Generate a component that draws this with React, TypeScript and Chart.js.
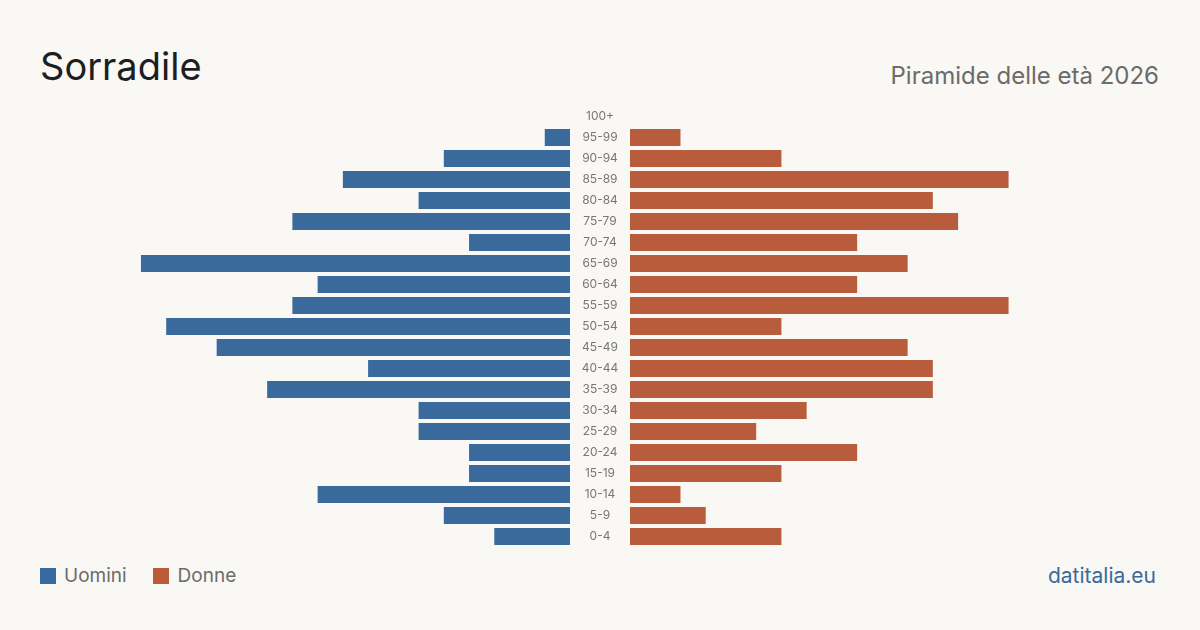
import React, { useEffect, useRef } from "react";
import { Chart, registerables } from "chart.js";

Chart.register(...registerables);

const ageGroups = ["100+", "95-99", "90-94", "85-89", "80-84", "75-79", "70-74", "65-69", "60-64", "55-59", "50-54", "45-49", "40-44", "35-39", "30-34", "25-29", "20-24", "15-19", "10-14", "5-9", "0-4"];
const males = [0, 1, 5, 9, 6, 11, 4, 17, 10, 11, 16, 14, 8, 12, 6, 6, 4, 4, 10, 5, 3];
const females = [0, 2, 6, 15, 12, 13, 9, 11, 9, 15, 6, 11, 12, 12, 7, 5, 9, 6, 2, 3, 6];
const axisMax = 21;

const BLUE = "#3a6a9b";
const RED = "#b95c3c";
const BG = "#f9f8f4";
const FONT = "Inter, 'Noto Sans', sans-serif";

const centerLabels = {
  id: "centerLabels",
  afterDraw(chart: any) {
    const ctx = chart.ctx;
    const y = chart.scales.y;
    ctx.save();
    ctx.fillStyle = "#777";
    ctx.font = `12px ${FONT}`;
    ctx.textAlign = "center";
    ctx.textBaseline = "middle";
    (chart.data.labels as string[]).forEach((lab, i) => {
      ctx.fillText(lab, chart.chartArea.left - 30, y.getPixelForValue(i));
    });
    ctx.restore();
  },
};

export default function App() {
  const leftRef = useRef<HTMLCanvasElement>(null);
  const rightRef = useRef<HTMLCanvasElement>(null);

  useEffect(() => {
    document.body.style.margin = "0";
    document.body.style.background = BG;
    const common: any = {
      indexAxis: "y",
      animation: false,
      responsive: false,
      maintainAspectRatio: false,
      plugins: { legend: { display: false }, tooltip: { enabled: false } },
    };
    const left = new Chart(leftRef.current!, {
      type: "bar",
      data: {
        labels: ageGroups,
        datasets: [{ label: "Uomini", data: males, backgroundColor: BLUE, categoryPercentage: 1, barPercentage: 17 / 21 }],
      },
      options: {
        ...common,
        layout: { padding: 0 },
        scales: {
          x: { display: false, reverse: true, min: 0, max: axisMax },
          y: { display: false },
        },
      },
    });
    const right = new Chart(rightRef.current!, {
      type: "bar",
      data: {
        labels: ageGroups,
        datasets: [{ label: "Donne", data: females, backgroundColor: RED, categoryPercentage: 1, barPercentage: 17 / 21 }],
      },
      options: {
        ...common,
        layout: { padding: { left: 60, right: 0, top: 0, bottom: 0 } },
        scales: {
          x: { display: false, min: 0, max: axisMax },
          y: { display: false },
        },
      },
      plugins: [centerLabels],
    });
    return () => {
      left.destroy();
      right.destroy();
    };
  }, []);

  return (
    <div style={{ position: "fixed", left: 0, top: 0, width: 1200, height: 630, background: BG, fontFamily: FONT, overflow: "hidden" }}>
      <div style={{ position: "absolute", left: 40, top: 40, fontSize: 38, color: "#1e1e1e", lineHeight: "52px" }}>Sorradile</div>
      <div style={{ position: "absolute", right: 41, top: 61, fontSize: 24, color: "#6b6b6b", lineHeight: "30px" }}>Piramide delle età 2026</div>
      <canvas ref={leftRef} width={530} height={441} style={{ position: "absolute", left: 40, top: 106, width: 530, height: 441 }} />
      <canvas ref={rightRef} width={590} height={441} style={{ position: "absolute", left: 570, top: 106, width: 590, height: 441 }} />
      <div style={{ position: "absolute", left: 40, top: 563, display: "flex", alignItems: "center", fontSize: 19, color: "#6b6b6b", lineHeight: "26px" }}>
        <span style={{ display: "inline-block", width: 16, height: 16, background: BLUE, marginRight: 8 }} />
        <span>Uomini</span>
        <span style={{ display: "inline-block", width: 16, height: 16, background: RED, marginLeft: 26, marginRight: 9 }} />
        <span>Donne</span>
      </div>
      <div style={{ position: "absolute", right: 44, top: 562, fontSize: 21, color: BLUE, lineHeight: "28px" }}>datitalia.eu</div>
    </div>
  );
}
